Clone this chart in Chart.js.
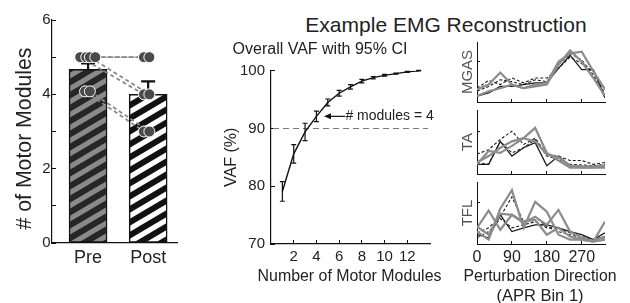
<!DOCTYPE html>
<html>
<head>
<meta charset="utf-8">
<title>Motor modules and EMG reconstruction</title>
<script src="https://cdn.jsdelivr.net/npm/chart.js@4.4.1/dist/chart.umd.min.js"></script>
<style>
  html, body { margin:0; padding:0; background:#fff; }
  body { position:relative; width:630px; height:303px; overflow:hidden; font-family:"Liberation Sans", Arial, sans-serif; }
  canvas { position:absolute; }
  #emgTitle { position:absolute; left:296px; top:13px; width:300px; text-align:center; font-size:21px; color:#222; white-space:nowrap; line-height:normal; }
</style>
</head>
<body>
<div id="emgTitle">Example EMG Reconstruction</div>
<canvas id="cBar" width="200" height="303" style="left:0;top:0"></canvas>
<canvas id="cVaf" width="280" height="303" style="left:210px;top:0"></canvas>
<canvas id="cMgas" width="180" height="80" style="left:450px;top:30px"></canvas>
<canvas id="cTa" width="180" height="80" style="left:450px;top:100px"></canvas>
<canvas id="cTfl" width="180" height="131" style="left:450px;top:172px"></canvas>
<script>
// ---------- Panel A: number of motor modules ----------
const groups = ['Pre', 'Post'];
const meanModules = [4.67, 4.0];
const semModules = [0.16, 0.35];
const subjectPre = [5, 5, 5, 5, 4.08, 4.08];
const subjectPost = [4, 5, 4, 5, 3, 3];
const jitterPre = [-0.13, -0.03, 0.03, 0.12, -0.05, 0.03];
const jitterPost = [-0.07, -0.07, 0.02, 0.02, -0.07, 0.02];
const moduleTicks = [0, 1, 2, 3, 4, 5, 6];

// ---------- Panel B: VAF curve ----------
const vafModules = [1, 2, 3, 4, 5, 6, 7, 8, 9, 10, 11, 12, 13];
const vafMean = [79.1, 85.6, 89.4, 92.1, 94.5, 96.1, 97.2, 98.2, 98.8, 99.2, 99.5, 99.8, 100];
const vafCI = [1.7, 1.6, 1.5, 0.9, 0.6, 0.5, 0.4, 0.3, 0.2, 0.15, 0.1, 0.1, 0.05];
const vafXTicks = [2, 4, 6, 8, 10, 12];
const vafYTicks = [70, 80, 90, 100];
const vafThreshold = 90;
const chosenModules = 4;

// ---------- Panel C: EMG reconstruction ----------
const directions = [0, 30, 60, 90, 120, 150, 180, 210, 240, 270, 300, 330];
const directionTicks = [0, 90, 180, 270];
const emgYTick = 0.67;

const mgasGrayA = [0.21, 0.29, 0.49, 0.29, 0.23, 0.29, 0.32, 0.67, 0.81, 0.84, 0.51, 0.21];
const mgasGrayB = [0.10, 0.18, 0.23, 0.29, 0.23, 0.26, 0.29, 0.62, 0.86, 0.67, 0.40, 0.10];
const mgasDashA = [0.23, 0.36, 0.29, 0.40, 0.32, 0.40, 0.40, 0.56, 0.75, 0.64, 0.51, 0.13];
const mgasDashB = [0.18, 0.26, 0.37, 0.34, 0.29, 0.37, 0.34, 0.62, 0.81, 0.70, 0.45, 0.07];
const mgasBlack = [0.10, 0.15, 0.26, 0.26, 0.29, 0.32, 0.32, 0.56, 0.78, 0.54, 0.54, 0.07];

const taGrayA = [0.18, 0.28, 0.41, 0.51, 0.56, 0.72, 0.33, 0.21, 0.10, 0.10, 0.10, 0.10];
const taGrayB = [0.15, 0.36, 0.33, 0.44, 0.56, 0.51, 0.31, 0.26, 0.13, 0.12, 0.12, 0.13];
const taDashA = [0.31, 0.38, 0.54, 0.67, 0.46, 0.56, 0.31, 0.28, 0.21, 0.21, 0.15, 0.18];
const taDashB = [0.18, 0.15, 0.51, 0.33, 0.41, 0.54, 0.28, 0.23, 0.15, 0.14, 0.13, 0.15];
const taBlack = [0.15, 0.15, 0.51, 0.28, 0.41, 0.49, 0.13, 0.28, 0.13, 0.10, 0.10, 0.13];

const tflGrayA = [0.20, 0.07, 0.57, 0.87, 0.26, 0.68, 0.52, 0.15, 0.07, 0.07, 0.04, 0.36];
const tflGrayB = [0.26, 0.54, 0.23, 0.47, 0.34, 0.44, 0.31, 0.55, 0.20, 0.10, 0.05, 0.12];
const tflGrayC = [0.28, 0.15, 0.49, 0.47, 0.36, 0.39, 0.15, 0.26, 0.12, 0.07, 0.04, 0.07];
const tflDashA = [0.18, 0.26, 0.44, 0.76, 0.36, 0.44, 0.28, 0.20, 0.15, 0.10, 0.07, 0.12];
const tflDashB = [0.10, 0.20, 0.41, 0.26, 0.31, 0.36, 0.26, 0.26, 0.18, 0.12, 0.07, 0.10];
const tflBlack = [0.15, 0.10, 0.47, 0.20, 0.26, 0.31, 0.31, 0.26, 0.20, 0.15, 0.07, 0.18];

// ---------- styles ----------
const FONT = '"Liberation Sans", Arial, Helvetica, sans-serif';
Chart.defaults.font.family = FONT;
Chart.defaults.color = '#222';
Chart.defaults.animation = false;
Chart.defaults.responsive = false;
Chart.defaults.devicePixelRatio = 1;
Chart.defaults.events = [];
Chart.defaults.plugins.legend.display = false;
Chart.defaults.plugins.tooltip.enabled = false;

const AXIS = '#111';
const lineStyles = {
  gray:  { color: '#8c8c8c', width: 2.2, dash: [] },
  black: { color: '#1a1a1a', width: 1.3, dash: [] },
  dash:  { color: '#1a1a1a', width: 1.1, dash: [3, 2] }
};

// axis-title text drawn without width compression (optionally fitted to a target width)
function textPlugin(items) {
  return {
    id: 'axisText',
    afterDraw(chart) {
      const { ctx, chartArea } = chart;
      items.forEach(it => {
        ctx.save();
        let size = it.size;
        ctx.font = size + 'px ' + FONT;
        if (it.width) {
          const w = ctx.measureText(it.text).width;
          if (w > 0) {
            size = size * it.width / w;
            ctx.font = size.toFixed(2) + 'px ' + FONT;
          }
        }
        ctx.fillStyle = it.color || '#222';
        ctx.textAlign = 'center';
        ctx.textBaseline = 'middle';
        const x = (it.x === 'center') ? (chartArea.left + chartArea.right) / 2 + (it.dx || 0) : it.x;
        ctx.translate(x, it.y);
        if (it.rotate) ctx.rotate(it.rotate);
        ctx.fillText(it.text, 0, 0);
        ctx.restore();
      });
    }
  };
}

function stripePattern(bg, fg, W, H, lw) {
  const c = document.createElement('canvas');
  c.width = W; c.height = H;
  const g = c.getContext('2d');
  g.fillStyle = bg; g.fillRect(0, 0, W, H);
  g.strokeStyle = fg; g.lineWidth = lw;
  for (let k = -2; k <= 2; k++) {
    g.beginPath();
    g.moveTo(k * W - W, 2 * H);
    g.lineTo(k * W + 2 * W, -H);
    g.stroke();
  }
  return g.createPattern(c, 'repeat');
}
const prePattern = stripePattern('#262626', '#8a8a8a', 22, 13, 5);
const postPattern = stripePattern('#ffffff', '#111111', 22, 13, 6);

// ---------- Chart A ----------
const barErrorPlugin = {
  id: 'barError',
  afterDatasetDraw(chart, args) {
    if (args.index !== 0) return;
    const { ctx, scales: { x, y } } = chart;
    ctx.save();
    ctx.strokeStyle = '#111';
    ctx.lineWidth = 2.2;
    groups.forEach((g, i) => {
      const px = x.getPixelForValue(i);
      const y0 = y.getPixelForValue(meanModules[i]);
      const y1 = y.getPixelForValue(meanModules[i] + semModules[i]);
      ctx.beginPath();
      ctx.moveTo(px, y0); ctx.lineTo(px, y1);
      ctx.moveTo(px - 7, y1); ctx.lineTo(px + 7, y1);
      ctx.stroke();
    });
    ctx.restore();
  }
};

const pairDatasets = subjectPre.map((v, i) => ({
  type: 'line',
  data: [{ x: 0 + jitterPre[i], y: v }, { x: 1 + jitterPost[i], y: subjectPost[i] }],
  borderColor: '#8a8a8a', borderWidth: 1.8, borderDash: [4, 3],
  pointRadius: 0, order: 2
}));
const dotData = subjectPre.map((v, i) => ({ x: 0 + jitterPre[i], y: v }))
  .concat(subjectPost.map((v, i) => ({ x: 1 + jitterPost[i], y: v })));

new Chart(document.getElementById('cBar'), {
  type: 'bar',
  data: {
    datasets: [
      {
        type: 'bar',
        data: groups.map((g, i) => ({ x: i, y: meanModules[i] })),
        backgroundColor: [prePattern, postPattern],
        borderColor: '#111', borderWidth: 1.5, borderSkipped: false,
        barThickness: 38, order: 3
      },
      ...pairDatasets,
      {
        type: 'scatter',
        data: dotData,
        pointStyle: 'circle', pointRadius: 5.5,
        backgroundColor: '#4a4a4a', borderColor: '#ffffff', borderWidth: 1,
        order: 1
      }
    ]
  },
  options: {
    layout: { padding: { left: 0, right: 23, top: 20, bottom: 0 } },
    scales: {
      x: {
        type: 'linear', min: -0.6, max: 1.48, offset: false,
        afterBuildTicks: s => { s.ticks = groups.map((g, i) => ({ value: i })); },
        afterFit: s => { s.height = 60; },
        ticks: { callback: v => groups[v] ?? '', font: { size: 18 }, color: '#222', padding: 4, maxRotation: 0, autoSkip: false },
        grid: { display: false, drawTicks: false },
        border: { display: true, color: AXIS, width: 1.2 }
      },
      y: {
        min: 0, max: 6,
        afterBuildTicks: s => { s.ticks = moduleTicks.map(v => ({ value: v })); },
        afterFit: s => { s.width = 52; },
        ticks: { callback: v => (v % 2 === 0 ? String(v) : ''), font: { size: 15 }, padding: 5.5, color: '#222' },
        grid: { drawOnChartArea: false, drawTicks: true, tickLength: -4, color: AXIS, lineWidth: 1 },
        border: { display: true, color: AXIS, width: 1.2 }
      }
    }
  },
  plugins: [barErrorPlugin, textPlugin([
    { text: '# of Motor Modules', x: 25, y: 138.5, size: 20, width: 182, rotate: -Math.PI / 2 }
  ])]
});

// ---------- Chart B ----------
const vafPlugin = {
  id: 'vafExtras',
  beforeDatasetsDraw(chart) {
    const { ctx, chartArea, scales: { y } } = chart;
    const py = y.getPixelForValue(vafThreshold);
    ctx.save();
    ctx.strokeStyle = '#7a7a7a'; ctx.lineWidth = 1.1;
    ctx.setLineDash([6, 4]);
    ctx.beginPath();
    ctx.moveTo(chartArea.left + 2, py); ctx.lineTo(chartArea.right - 2, py);
    ctx.stroke();
    ctx.restore();
  },
  afterDatasetsDraw(chart) {
    const { ctx, scales: { x, y } } = chart;
    ctx.save();
    ctx.strokeStyle = '#111'; ctx.lineWidth = 1.2;
    vafModules.forEach((m, i) => {
      const px = x.getPixelForValue(m);
      const lo = y.getPixelForValue(vafMean[i] - vafCI[i]);
      const hi = y.getPixelForValue(vafMean[i] + vafCI[i]);
      ctx.beginPath();
      ctx.moveTo(px, lo); ctx.lineTo(px, hi);
      ctx.moveTo(px - 2.5, lo); ctx.lineTo(px + 2.5, lo);
      ctx.moveTo(px - 2.5, hi); ctx.lineTo(px + 2.5, hi);
      ctx.stroke();
    });
    // annotation for chosen number of modules
    const idx = vafModules.indexOf(chosenModules);
    const tipX = x.getPixelForValue(chosenModules) + 7.5;
    const tipY = y.getPixelForValue(vafMean[idx]);
    ctx.beginPath();
    ctx.moveTo(tipX + 4, tipY); ctx.lineTo(tipX + 21, tipY);
    ctx.stroke();
    ctx.fillStyle = '#111';
    ctx.beginPath();
    ctx.moveTo(tipX, tipY); ctx.lineTo(tipX + 7, tipY - 3); ctx.lineTo(tipX + 7, tipY + 3);
    ctx.closePath(); ctx.fill();
    ctx.font = '14px ' + FONT;
    ctx.fillStyle = '#222';
    ctx.textBaseline = 'middle'; ctx.textAlign = 'left';
    ctx.fillText('# modules = ' + chosenModules, tipX + 21.5, tipY);
    ctx.restore();
  }
};

new Chart(document.getElementById('cVaf'), {
  type: 'line',
  data: {
    datasets: [{
      data: vafModules.map((m, i) => ({ x: m, y: vafMean[i] })),
      borderColor: '#111', borderWidth: 1.4, pointRadius: 0, tension: 0
    }]
  },
  options: {
    layout: { padding: { left: 0, right: 60, top: 0, bottom: 0 } },
    plugins: {
      title: { display: true, text: 'Overall VAF with 95% CI', font: { size: 16, weight: 'normal' }, color: '#222', padding: { top: 40.4, bottom: 11.1 } }
    },
    scales: {
      x: {
        type: 'linear', min: 0, max: 14,
        afterBuildTicks: s => { s.ticks = vafXTicks.map(v => ({ value: v })); },
        afterFit: s => { s.height = 59; },
        ticks: { font: { size: 15 }, padding: 7.7, color: '#222', maxRotation: 0, autoSkip: false },
        grid: { drawOnChartArea: false, tickLength: -4, color: AXIS },
        border: { color: AXIS, width: 1.2 }
      },
      y: {
        min: 70, max: 100,
        afterBuildTicks: s => { s.ticks = vafYTicks.map(v => ({ value: v })); },
        afterFit: s => { s.width = 61; },
        ticks: { font: { size: 15 }, padding: 10, color: '#222' },
        grid: { drawOnChartArea: false, tickLength: -4, color: AXIS },
        border: { color: AXIS, width: 1.2 },
        title: { display: true, text: 'VAF (%)', font: { size: 16 }, color: '#222', padding: { top: 12, bottom: 0 } }
      }
    }
  },
  plugins: [vafPlugin, textPlugin([
    { text: 'Number of Motor Modules', x: 'center', dx: -1, y: 277, size: 16, width: 184 }
  ])]
});

// ---------- Chart C ----------
function emgPanel(id, label, series, topPad, xHeight, showX, extraText) {
  return new Chart(document.getElementById(id), {
    type: 'line',
    data: {
      datasets: series.map(s => ({
        data: directions.map((d, i) => ({ x: d, y: s.values[i] })),
        borderColor: lineStyles[s.style].color,
        borderWidth: lineStyles[s.style].width,
        borderDash: lineStyles[s.style].dash,
        pointRadius: 0, tension: 0
      }))
    },
    options: {
      layout: { padding: { left: 0, right: 25, top: topPad, bottom: 0 } },
      scales: {
        x: {
          type: 'linear', min: 0, max: 330,
          afterBuildTicks: s => { s.ticks = directionTicks.map(v => ({ value: v })); },
          afterFit: s => { s.height = xHeight; },
          ticks: { display: showX, font: { size: 16 }, padding: 7.4, color: '#222', maxRotation: 0, autoSkip: false },
          grid: { drawOnChartArea: false, tickLength: -3, color: AXIS },
          border: { color: AXIS, width: 1 }
        },
        y: {
          min: 0, max: 1,
          afterBuildTicks: s => { s.ticks = [{ value: emgYTick }]; },
          afterFit: s => { s.width = 27; },
          ticks: { display: false },
          grid: { drawOnChartArea: false, tickLength: -3, color: AXIS },
          border: { color: AXIS, width: 1 },
          title: { display: true, text: label, font: { size: 15 }, color: '#555', padding: { top: 8.5, bottom: 0 } }
        }
      }
    },
    plugins: extraText ? [textPlugin(extraText)] : []
  });
}

emgPanel('cMgas', 'MGAS', [
  { values: mgasGrayA, style: 'gray' },
  { values: mgasGrayB, style: 'gray' },
  { values: mgasDashA, style: 'dash' },
  { values: mgasDashB, style: 'dash' },
  { values: mgasBlack, style: 'black' }
], 12, 8, false);

emgPanel('cTa', 'TA', [
  { values: taGrayA, style: 'gray' },
  { values: taGrayB, style: 'gray' },
  { values: taDashA, style: 'dash' },
  { values: taDashB, style: 'dash' },
  { values: taBlack, style: 'black' }
], 10, 6, false);

emgPanel('cTfl', 'TFL', [
  { values: tflGrayA, style: 'gray' },
  { values: tflGrayB, style: 'gray' },
  { values: tflGrayC, style: 'gray' },
  { values: tflDashA, style: 'dash' },
  { values: tflDashB, style: 'dash' },
  { values: tflBlack, style: 'black' }
], 10, 59, true, [
  { text: 'Perturbation Direction', x: 'center', dx: -1, y: 105, size: 16, width: 153 },
  { text: '(APR Bin 1)', x: 'center', dx: -1, y: 124.5, size: 16.5 }
]);
</script>
</body>
</html>
